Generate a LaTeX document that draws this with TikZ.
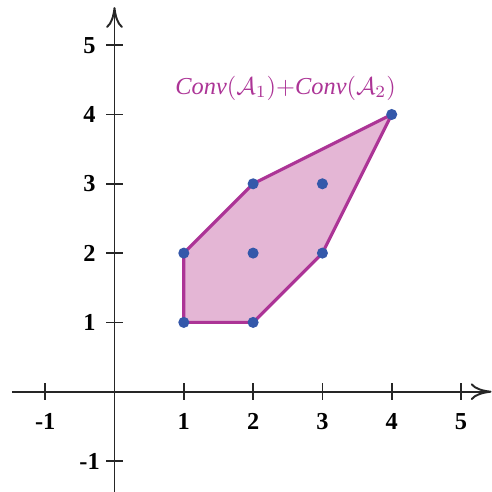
\documentclass[tikz,border=0pt]{standalone}
\usepackage{fontspec}
\setmainfont{Liberation Serif}
\usepackage{amsmath}
\usepackage{tikz}
\usetikzlibrary{positioning,arrows.meta}
\definecolor{borde}{RGB}{172,52,150}
\definecolor{relleno}{RGB}{228,182,213}
\definecolor{punto}{RGB}{52,88,170}

\begin{document}
\begin{tikzpicture}[font=\bfseries,>={To[length=3mm,width=2.4mm]},
  eje/.style={line width=0.8pt,black!85},
  marca/.style={line width=0.7pt,black!85},
  vert/.style={circle,fill=punto,inner sep=0pt,minimum size=1.6mm}]
  \useasboundingbox (-1.652,-1.447) rectangle (5.447,5.652);
  \filldraw[fill=relleno,draw=borde,line width=1.3pt,line join=round]
    (1,1) -- (2,1) -- (3,2) -- (4,4) -- (2,3) -- (1,2) -- cycle;
  \coordinate (xa) at (-1.48,0);
  \coordinate (xb) at (5.44,0);
  \coordinate (ya) at (0,-1.447);
  \coordinate (yb) at (0,5.55);
  \draw[eje,->] (xa) -- (xb);
  \draw[eje,->] (ya) -- (yb);
  \foreach \x in {-1,1,2,3,4,5} {
    \draw[marca] (\x,0.12) -- (\x,-0.12);
    \node (lx\x) at (\x,-0.43) {\x};
  }
  \foreach \y in {-1,1,2,3,4,5} {
    \draw[marca] (-0.12,\y) -- (0.12,\y);
    \node (ly\y) at (-0.36,\y) {\y};
  }
  \foreach \p/\q in {1/1,2/1,1/2,2/2,2/3,3/2,3/3,4/4}
    \node[vert] (v\p\q) at (\p,\q) {};
  \node[text=borde,font=\normalsize\itshape] (conv) at (2.47,4.38)
    {$\mathit{Conv}(\mathcal{A}_1){+}\mathit{Conv}(\mathcal{A}_2)$};
\end{tikzpicture}
\end{document}
